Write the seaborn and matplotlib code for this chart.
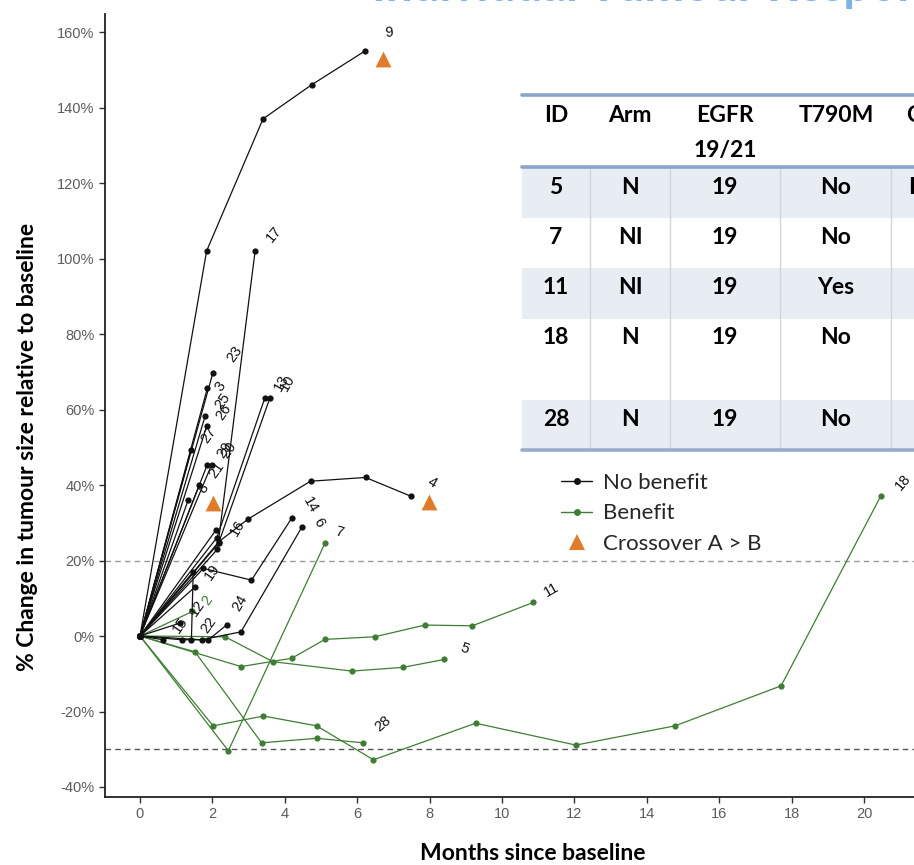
import matplotlib
matplotlib.use("Agg")
import matplotlib.pyplot as plt
import numpy as np
import pandas as pd
import seaborn as sns
from matplotlib.lines import Line2D
from matplotlib.patches import Rectangle
from matplotlib.ticker import FuncFormatter

# ---------------- patient trajectories (months since baseline, % change) ----------------
# No benefit
months_9, change_9 = [0, 1.84, 3.40, 4.74, 6.22], [0, 102, 137, 146, 155]
months_17, change_17 = [0, 2.14, 3.18], [0, 23, 102]
months_4, change_4 = [0, 2.18, 2.99, 4.71, 6.23, 7.49], [0, 25, 31, 41, 42, 37]
months_23, change_23 = [0, 2.01], [0, 69.6]
months_3, change_3 = [0, 1.86], [0, 65.6]
months_25, change_25 = [0, 1.80], [0, 58.3]
months_26, change_26 = [0, 1.84], [0, 55.5]
months_27, change_27 = [0, 1.41], [0, 49.3]
months_29, change_29 = [0, 1.86], [0, 45.4]
months_20, change_20 = [0, 1.98], [0, 45.4]
months_21, change_21 = [0, 1.64], [0, 40.0]
months_8, change_8 = [0, 1.33], [0, 36.0]
months_13, change_13 = [0, 2.12, 3.45], [0, 26, 63.1]
months_10, change_10 = [0, 2.17, 3.59], [0, 24.6, 63.1]
months_16, change_16 = [0, 2.10], [0, 28.1]
months_14, change_14 = [0, 1.75, 3.08, 4.19], [0, 17.9, 14.8, 31.2]
months_6, change_6 = [0, 1.70, 2.79, 4.48], [0, -1, 1.1, 29.0]
months_24, change_24 = [0, 1.15, 1.89, 2.39], [0, -1, -1, 2.9]
months_15, change_15 = [0, 0.64], [0, -1]
months_12, change_12 = [0, 1.10], [0, 3.4]
months_19, change_19 = [0, 1.52], [0, 13.0]
months_22, change_22 = [0, 1.47, 1.42], [0, 17.0, -1]

# Benefit
months_5, change_5 = [0, 2.35, 3.67, 5.85, 7.27, 8.41], [0, -0.2, -6.8, -9.3, -8.3, -6.2]
months_7, change_7 = [0, 2.44, 5.11], [0, -30.4, 24.6]
months_11, change_11 = ([0, 2.79, 4.19, 5.11, 6.49, 7.87, 9.18, 10.87],
                        [0, -8.1, -5.9, -0.9, -0.2, 2.9, 2.7, 8.9])
months_18, change_18 = ([0, 2.02, 3.41, 4.88, 6.45, 9.27, 12.04, 14.78, 17.71, 20.47],
                        [0, -23.8, -21.2, -23.8, -32.8, -23.1, -28.9, -23.8, -13.2, 37.2])
months_28, change_28 = [0, 1.52, 3.36, 4.88, 6.17], [0, -4.2, -28.3, -27.1, -28.3]
months_2, change_2 = [0, 1.45], [0, 6.5]

# Crossover A > B events
crossover_months = [6.72, 7.98, 2.02]
crossover_change = [152.8, 35.4, 35.2]

# Response reference lines
progression_line = 20
response_line = -30

x_ticks = [0, 2, 4, 6, 8, 10, 12, 14, 16, 18, 20]
y_ticks = [-40, -20, 0, 20, 40, 60, 80, 100, 120, 140, 160]

# Patient table
table_header = ["ID", "Arm", "EGFR\n19/21", "T790M", "C"]
table_id = ["5", "7", "11", "18", "28"]
table_arm = ["N", "NI", "NI", "N", "N"]
table_egfr = ["19", "19", "19", "19", "19"]
table_t790m = ["No", "No", "Yes", "No", "No"]
table_last = ["F", "", "", "", ""]

no_benefit = {
    "9": (months_9, change_9), "17": (months_17, change_17), "4": (months_4, change_4),
    "23": (months_23, change_23), "3": (months_3, change_3), "25": (months_25, change_25),
    "26": (months_26, change_26), "27": (months_27, change_27), "29": (months_29, change_29),
    "20": (months_20, change_20), "21": (months_21, change_21), "8": (months_8, change_8),
    "13": (months_13, change_13), "10": (months_10, change_10), "16": (months_16, change_16),
    "14": (months_14, change_14), "6": (months_6, change_6), "24": (months_24, change_24),
    "15": (months_15, change_15), "12": (months_12, change_12), "19": (months_19, change_19),
    "22": (months_22, change_22),
}
benefit = {
    "5": (months_5, change_5), "7": (months_7, change_7), "11": (months_11, change_11),
    "18": (months_18, change_18), "28": (months_28, change_28), "2": (months_2, change_2),
}

rows = []
for group, pts in (("Benefit", benefit), ("No benefit", no_benefit)):
    for pid, (m, c) in pts.items():
        for order, (mm, cc) in enumerate(zip(m, c)):
            rows.append({"id": pid, "group": group, "order": order, "month": mm, "change": cc})
df = pd.DataFrame(rows)

# ---------------- figure ----------------
W, H = 914, 865
sns.set_theme(style="ticks")
plt.rcParams["font.family"] = ["Liberation Sans", "DejaVu Sans"]

fig = plt.figure(figsize=(W / 100, H / 100), dpi=100)
fig.patch.set_facecolor("white")


def fx(x):
    return x / W


def fy(y):
    return 1 - y / H


ax = fig.add_axes([fx(105), fy(797), fx(914) - fx(105), fy(14) - fy(797)])
ax.set_facecolor("white")

GREEN = "#3f7d34"
BLACK = "#111111"
ORANGE = "#e07b2a"

ax.axhline(progression_line, color="#9a9a9a", lw=1.0, ls=(0, (4, 3)), zorder=1)
ax.axhline(response_line, color="#555555", lw=1.0, ls=(0, (4, 3)), zorder=1)

sns.lineplot(data=df, x="month", y="change", hue="group", units="id", estimator=None,
             sort=False, palette={"No benefit": BLACK, "Benefit": GREEN},
             hue_order=["Benefit", "No benefit"], marker="o", markersize=4.5,
             markeredgewidth=0, linewidth=0.9, legend=False, ax=ax, zorder=3)

sns.scatterplot(x=crossover_months, y=crossover_change, marker="^", s=130,
                color=ORANGE, linewidth=0, ax=ax, zorder=5)

# patient ID labels at the last assessment
label_angle = {"9": 5, "17": 50, "4": -30, "13": 60, "10": 60, "14": -60, "6": -60,
               "7": -15, "11": 30, "5": -20, "28": 40, "18": 50, "24": 60, "16": 60}
label_offset = {"9": (14, 8), "17": (6, 4), "4": (10, 4), "3": (4, -4), "23": (8, 6),
                "14": (6, 2), "6": (6, -2), "7": (6, 2), "11": (6, 2), "5": (10, 2),
                "28": (6, 6), "18": (8, 2), "24": (2, 8), "16": (8, -6)}
for group, pts in (("Benefit", benefit), ("No benefit", no_benefit)):
    for pid, (m, c) in pts.items():
        off = label_offset.get(pid, (5, 3))
        ax.annotate(pid, (m[-1], c[-1]), xytext=off, textcoords="offset points",
                    rotation=label_angle.get(pid, 55), fontsize=10.5,
                    color=GREEN if pid == "2" else BLACK,
                    ha="left", va="bottom", zorder=6)

ax.set_xlim((105 - 140) / 36.2, (914 - 140) / 36.2)
ax.set_ylim((636 - 797) / 3.775, (636 - 14) / 3.775)
ax.set_xticks(x_ticks)
ax.set_yticks(y_ticks)
ax.yaxis.set_major_formatter(FuncFormatter(lambda v, _: f"{v:.0f}%"))
ax.tick_params(axis="both", colors="#333333", labelcolor="#5c5c5c", labelsize=10.5,
               length=4, width=1)
ax.set_xlabel("")
ax.set_ylabel("")
for side in ("top", "right"):
    ax.spines[side].set_visible(False)
for side in ("left", "bottom"):
    ax.spines[side].set_color("#222222")
    ax.spines[side].set_linewidth(1.3)

fig.text(fx(533), fy(853), "Months since baseline", ha="center", va="center",
         fontsize=16.5, fontweight="bold", family=["Lato", "DejaVu Sans"], color="black")
fig.text(fx(28), fy(447), "% Change in tumour size relative to baseline", ha="center",
         va="center", rotation=90, fontsize=16.5, fontweight="bold",
         family=["Lato", "DejaVu Sans"], color="black")

# legend
handles = [
    Line2D([0], [0], color=BLACK, lw=1, marker="o", ms=5, mew=0),
    Line2D([0], [0], color=GREEN, lw=1, marker="o", ms=5, mew=0),
    Line2D([0], [0], color=ORANGE, lw=0, marker="^", ms=11, mew=0),
]
leg = ax.legend(handles, ["No benefit", "Benefit", "Crossover A > B"], loc="upper left",
                bbox_to_anchor=(fx(561), fy(473)), bbox_transform=fig.transFigure,
                frameon=False, handlelength=1.4, handletextpad=0.5,
                labelspacing=0.47, borderpad=0, borderaxespad=0,
                prop={"family": ["Lato", "DejaVu Sans"], "size": 16})

# patient table
tf = fig.transFigure
shade = "#e8ecf3"
for y0, y1 in [(167, 218), (268, 319), (400, 448)]:
    fig.add_artist(Rectangle((fx(522), fy(y1)), fx(920) - fx(522), fy(y0) - fy(y1),
                             transform=tf, facecolor=shade, edgecolor="none", zorder=1))
for xs in [590, 670, 780, 891]:
    fig.add_artist(Line2D([fx(xs), fx(xs)], [fy(168), fy(448)], transform=tf,
                          color="#cfd4dd", lw=1, zorder=2))
for yl, colr in [(95, "#8aa3c9"), (167, "#8aa3c9"), (450, "#98abcb")]:
    fig.add_artist(Line2D([fx(522), fx(920)], [fy(yl), fy(yl)], transform=tf,
                          color=colr, lw=2.6, zorder=3))

col_x = [556, 630, 725, 836]
tkw = dict(transform=tf, fontsize=16.5, fontweight="bold", family=["Lato", "DejaVu Sans"],
           color="black", zorder=4)
for cx, head in zip(col_x, table_header[:4]):
    for k, part in enumerate(head.split("\n")):
        fig.text(fx(cx), fy(115 + 35 * k), part, ha="center", va="center", **tkw)
fig.text(fx(906), fy(115), table_header[4], ha="left", va="center", **tkw)

row_y = [187, 238, 287, 338, 420]
for ry, a, b, c, d, e in zip(row_y, table_id, table_arm, table_egfr, table_t790m, table_last):
    for cx, val in zip(col_x, (a, b, c, d)):
        fig.text(fx(cx), fy(ry), val, ha="center", va="center", **tkw)
    if e:
        fig.text(fx(908), fy(ry), e, ha="left", va="center", **tkw)

# slide heading running off the top edge
fig.text(fx(372), fy(1), "Individual Tumour Response", ha="left", va="baseline",
         fontsize=34, fontweight="bold", family=["Lato", "DejaVu Sans"], color="#7fb2e5")

fig.savefig("out.png", dpi=100, facecolor="white")
